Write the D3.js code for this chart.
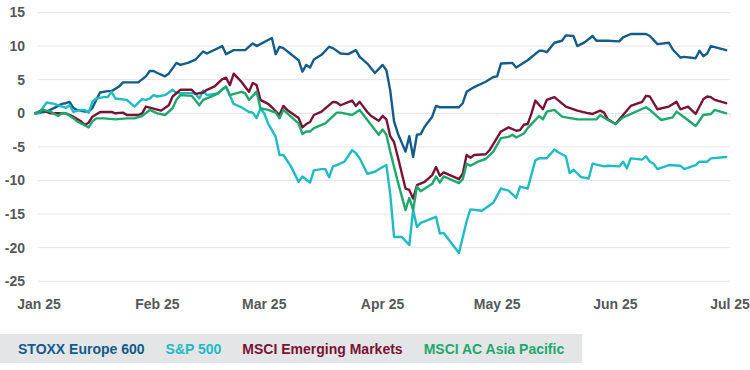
<!DOCTYPE html>
<html>
<head>
<meta charset="utf-8">
<script src="https://cdn.jsdelivr.net/npm/d3@7"></script>
<style>
  html, body { margin: 0; padding: 0; background: #fff; }
  svg { display: block; }
  text { font-family: "Liberation Sans", Arial, sans-serif; }
</style>
</head>
<body>
<svg id="chart" width="750" height="370"></svg>
<script>
// Day offsets are days since 2025-01-01; values are % change since start of year.
const seriesNames = ["STOXX Europe 600", "S&P 500", "MSCI Emerging Markets", "MSCI AC Asia Pacific"];
const seriesColors = ["#135b8a", "#1dbcc4", "#7a1236", "#1fa86e"];
const yTicks = [15, 10, 5, 0, -5, -10, -15, -20, -25];
const xTickLabels = ["Jan 25", "Feb 25", "Mar 25", "Apr 25", "May 25", "Jun 25", "Jul 25"];

const stoxx600 = [[-1,0],[2,0.25],[4,0.8],[6,1.4],[7,1.5],[8,1.7],[9,0.8],[10,0.5],[12,0.25],[13,0.25],[14,0.8],[15,2.0],[16,3.1],[18,3.3],[19,3.3],[21,4.0],[22,4.6],[24,4.6],[26,4.6],[28,5.5],[29,6.3],[30,6.3],[31,6.0],[33,5.5],[34,5.9],[36,7.5],[37,7.2],[39,7.5],[41,8.0],[43,9.2],[44,8.9],[48,10.0],[49,8.8],[51,9.4],[54,9.4],[56,10.4],[57,10.0],[61,11.2],[62,8.8],[63,9.9],[64,9.7],[68,7.9],[69,6.2],[70,7.2],[71,6.8],[72,8.0],[74,8.7],[76,9.9],[77,9.7],[79,8.9],[81,8.8],[83,9.4],[84,8.4],[86,7.4],[88,6.0],[90,7.2],[91,6.4],[92,3.4],[93,-1.2],[94,-3.0],[96,-5.7],[97,-3.4],[98,-6.5],[99,-3.2],[100,-3.1],[101,-2.0],[103,-0.5],[104,1.1],[105,0.9],[110,0.9],[111,1.5],[112,3.2],[114,3.9],[117,4.7],[119,5.4],[120,5.5],[121,7.4],[124,7.5],[125,6.8],[128,7.9],[131,9.3],[132,9.3],[133,9.1],[135,10.5],[137,10.8],[138,11.6],[140,11.5],[141,10.0],[143,10.6],[145,11.5],[146,10.8],[149,10.8],[152,10.7],[153,11.3],[155,11.8],[159,11.8],[160,11.5],[162,10.3],[165,10.5],[166,9.5],[168,8.3],[169,8.4],[172,8.2],[173,9.3],[174,8.5],[175,8.9],[176,10.0],[180,9.4]];

const sp500 = [[-1,0],[0,0],[2,1.6],[4,1.4],[5,1.2],[7,0.8],[8,1.2],[9,0.2],[11,0.5],[12,0.5],[13,0.1],[14,1.7],[15,2.2],[17,2.4],[18,2.4],[19,3.2],[20,2.2],[23,2.0],[25,1.0],[27,2.1],[28,2.0],[29,2.2],[30,2.7],[31,2.5],[33,2.7],[35,3.5],[36,3.0],[38,3.0],[40,3.0],[41,2.9],[42,2.2],[43,3.4],[44,2.7],[47,3.0],[48,3.6],[49,3.9],[51,1.4],[53,0.9],[55,0.2],[56,0.1],[57,-0.7],[58,0.7],[59,0],[60,-1.5],[62,-3.5],[63,-6.2],[64,-6.2],[66,-7.9],[68,-10.2],[69,-9.4],[71,-10.3],[72,-8.5],[74,-8.3],[75,-8.3],[76,-9.5],[77,-7.9],[78,-7.7],[80,-7.2],[82,-5.5],[83,-5.9],[84,-6.7],[86,-9.0],[88,-8.7],[90,-8.0],[91,-7.7],[92,-12],[93,-18.4],[95,-18.4],[97,-19.6],[98,-14.4],[99,-16.9],[100,-16.3],[104,-15.4],[105,-17.9],[106,-17.8],[110,-20.8],[112,-16.1],[113,-14.3],[116,-14.5],[119,-13.3],[121,-11.2],[123,-11.5],[125,-12.6],[126,-10.9],[128,-11.2],[130,-7.0],[131,-6.7],[133,-6.7],[135,-5.4],[136,-5.8],[138,-6.4],[139,-8.9],[140,-8.4],[142,-9.5],[144,-9.7],[145,-7.5],[148,-7.9],[149,-7.8],[152,-7.9],[153,-7.2],[154,-8.2],[155,-6.7],[158,-6.9],[159,-6.4],[160,-7.2],[161,-7.5],[162,-8.3],[165,-7.7],[168,-7.8],[169,-8.3],[172,-7.7],[173,-7.2],[175,-7.2],[176,-6.7],[180,-6.5]];

const msciEM = [[-1,0],[1,0.5],[3,0],[5,0],[7,0],[9,-0.5],[11,-1.2],[12,-1.7],[13,-1.4],[14,-0.5],[16,0.2],[19,0.2],[20,0],[22,0.1],[23,-0.25],[26,-0.25],[27,0],[28,1.0],[30,0.7],[32,0.4],[34,1.2],[35,2.5],[37,3.5],[40,3.5],[41,2.9],[43,3.1],[44,3.5],[46,4.0],[48,5.1],[49,5.3],[50,4.2],[51,5.9],[52,5.3],[53,4.7],[55,3.2],[56,4.5],[57,4.2],[58,2.0],[60,1.4],[61,0.9],[63,-0.25],[64,1.1],[65,0.5],[68,-0.7],[69,-2.1],[70,-1.6],[71,-1.3],[72,-0.25],[74,0.25],[77,1.7],[78,1.6],[79,1.2],[82,1.9],[83,1.1],[84,1.7],[86,0.2],[87,-0.4],[89,-1.1],[90,-0.4],[91,-0.9],[92,-3.4],[93,-4.3],[94,-6.5],[96,-11.2],[97,-11.4],[98,-12.7],[99,-10.7],[101,-10.2],[103,-9.2],[104,-8.0],[105,-9.3],[106,-8.8],[110,-9.8],[111,-9.0],[112,-6.2],[113,-6.6],[114,-6.2],[117,-6.1],[118,-5.5],[119,-4.6],[121,-2.7],[123,-2.1],[125,-2.6],[126,-2.5],[127,-1.7],[128,-1.6],[129,0],[130,1.9],[132,0.6],[133,2.0],[135,2.4],[138,1.0],[141,0.4],[144,0],[145,-0.1],[147,0.4],[148,0.1],[149,-0.9],[151,-1.6],[153,-0.25],[155,1.1],[158,1.7],[159,2.6],[160,2.5],[162,0.6],[165,1.0],[167,1.7],[168,0.6],[170,1.0],[172,-0.1],[174,2.1],[175,2.5],[176,2.4],[177,2.0],[180,1.5]];

const msciACAP = [[-1,0],[1,0.5],[3,0.25],[5,-0.4],[6,0],[7,0],[9,-0.75],[10,-1.2],[13,-2.1],[14,-1.2],[15,-0.75],[17,-0.75],[20,-0.9],[23,-0.75],[25,-0.75],[27,-0.4],[29,0.5],[31,0],[33,-0.25],[35,0.75],[36,2.0],[37,2.7],[40,2.6],[42,1.2],[43,2.0],[46,2.7],[47,3.0],[49,4.0],[50,2.7],[53,3.2],[54,3.0],[55,2.0],[57,3.2],[58,0.75],[60,0.5],[62,0.1],[63,-0.75],[64,0.5],[68,-1.5],[69,-3.1],[70,-2.7],[71,-2.7],[72,-2.2],[75,-1.5],[78,0.1],[79,0.1],[82,-0.25],[84,0.5],[86,-1.0],[89,-3.2],[90,-2.4],[91,-3.2],[92,-5.7],[94,-10.2],[96,-14.4],[97,-12.6],[98,-14.4],[99,-10.9],[100,-11.6],[103,-10.5],[104,-9.4],[105,-10.3],[106,-9.4],[110,-10.4],[111,-9.8],[112,-7.5],[113,-7.8],[115,-7.2],[117,-6.8],[119,-5.7],[121,-3.7],[123,-3.5],[124,-3.2],[125,-3.6],[127,-3.0],[128,-2.2],[131,-0.4],[132,-0.9],[133,0.25],[135,0.5],[137,-0.5],[141,-0.9],[146,-0.9],[147,-0.25],[149,-1.0],[151,-1.6],[153,-0.6],[159,0.9],[160,0.5],[163,-1.0],[166,-0.6],[167,0.25],[169,-0.6],[172,-1.9],[174,-0.25],[176,-0.1],[177,0.5],[180,0]];

const allSeries = [stoxx600, sp500, msciEM, msciACAP];

const svg = d3.select("#chart");
const start = new Date(Date.UTC(2025, 0, 1));
const toDate = d => d3.utcDay.offset(start, d);

const x = d3.scaleUtc()
  .domain([new Date(Date.UTC(2025, 0, 1)), new Date(Date.UTC(2025, 6, 1))])
  .range([39, 730]);
const y = d3.scaleLinear().domain([-25, 15]).range([281.3, 12.5]);

// gridlines
svg.append("g").selectAll("line").data(yTicks).join("line")
  .attr("x1", 38).attr("x2", 730)
  .attr("y1", d => y(d)).attr("y2", d => y(d))
  .attr("stroke", "#e3e4e6").attr("stroke-width", 1);

// small month ticks on zero line
const monthTicks = d3.utcMonth.range(new Date(Date.UTC(2025, 1, 1)), new Date(Date.UTC(2025, 6, 2)));
svg.append("g").selectAll("line").data(monthTicks).join("line")
  .attr("x1", d => x(d)).attr("x2", d => x(d))
  .attr("y1", y(0)).attr("y2", y(0) + 4)
  .attr("stroke", "#e3e4e6").attr("stroke-width", 1);

// y axis labels
svg.append("g").selectAll("text").data(yTicks).join("text")
  .attr("x", 25).attr("y", d => y(d)).attr("dy", "0.35em")
  .attr("text-anchor", "end")
  .attr("font-size", 14).attr("font-weight", "bold").attr("fill", "#555759")
  .text(d => d);

// x axis labels
const xTicks = d3.utcMonth.range(new Date(Date.UTC(2025, 0, 1)), new Date(Date.UTC(2025, 6, 2)));
svg.append("g").selectAll("text").data(xTicks).join("text")
  .attr("x", d => x(d)).attr("y", 309)
  .attr("text-anchor", "middle")
  .attr("font-size", 14).attr("font-weight", "bold").attr("fill", "#555759")
  .text((d, i) => xTickLabels[i]);

// lines
const line = d3.line().x(p => x(toDate(p[0]))).y(p => y(p[1]));
svg.append("g").selectAll("path").data(allSeries).join("path")
  .attr("d", line)
  .attr("fill", "none")
  .attr("stroke", (d, i) => seriesColors[i])
  .attr("stroke-width", 2.4)
  .attr("stroke-linejoin", "round")
  .attr("stroke-linecap", "round");

// legend
const lg = svg.append("g");
const box = lg.append("rect").attr("x", 0).attr("y", 334).attr("height", 29).attr("fill", "#e4e5e7");
let cx = 18;
seriesNames.forEach((name, i) => {
  const t = lg.append("text").attr("x", cx).attr("y", 354)
    .attr("font-size", 14).attr("font-weight", "bold").attr("fill", seriesColors[i])
    .text(name);
  cx += t.node().getComputedTextLength() + 21;
});
box.attr("width", cx - 21 + 18);
</script>
</body>
</html>
